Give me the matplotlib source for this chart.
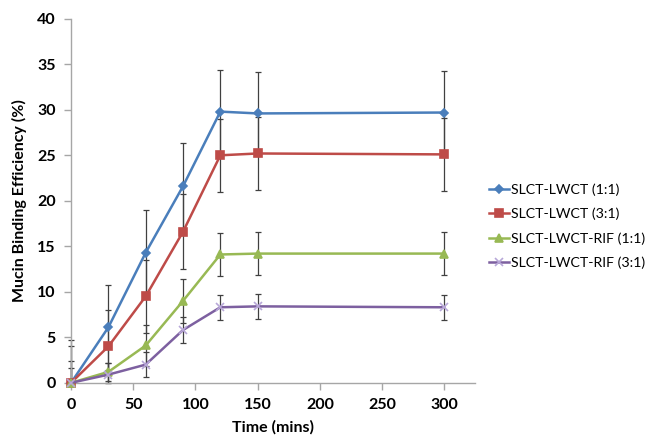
import matplotlib.pyplot as plt

plt.rcParams['font.family'] = ['Lato', 'DejaVu Sans']

# binding efficiency over time for each formulation
time = [0, 30, 60, 90, 120, 150, 300]
lwct_11 = [0, 6.1, 14.3, 21.6, 29.8, 29.6, 29.7]
lwct_11_err = [4.7, 4.7, 4.7, 4.7, 4.6, 4.6, 4.6]
lwct_31 = [0, 4.0, 9.5, 16.6, 25.0, 25.2, 25.1]
lwct_31_err = [4.0, 4.0, 4.0, 4.1, 4.0, 4.0, 4.0]
rif_11 = [0, 1.2, 4.1, 9.0, 14.1, 14.2, 14.2]
rif_11_err = [2.4, 1.0, 2.3, 2.4, 2.4, 2.4, 2.4]
rif_31 = [0, 0.9, 2.0, 5.8, 8.3, 8.4, 8.3]
rif_31_err = [1.6, 1.3, 1.4, 1.4, 1.4, 1.4, 1.4]

series = [
    ('SLCT-LWCT (1:1)', lwct_11, lwct_11_err, '#4A7EBB', 'D', 4),
    ('SLCT-LWCT (3:1)', lwct_31, lwct_31_err, '#BE4B48', 's', 6),
    ('SLCT-LWCT-RIF (1:1)', rif_11, rif_11_err, '#98B954', '^', 6),
    ('SLCT-LWCT-RIF (3:1)', rif_31, rif_31_err, '#7D60A0', 'x', 6),
]

fig = plt.figure(figsize=(6.52, 4.37), dpi=100)
ax = fig.add_axes([0.109, 0.124, 0.62, 0.833])

for label, y, err, color, marker, ms in series:
    # bars stop at the x axis, as the y range starts at zero
    lower = [min(e, v) for v, e in zip(y, err)]
    eb = ax.errorbar(time, y, yerr=[lower, err], fmt='none', ecolor='#404040',
                     elinewidth=0.9, capsize=2.5, capthick=0.9, zorder=2)
    for part in eb.lines[1] + eb.lines[2]:
        part.set_clip_on(False)
    mfc = '#B8A8D8' if marker == 'x' else color
    ax.plot(time, y, color=color, lw=1.8, marker=marker, ms=ms,
            mfc=mfc, mec=mfc, mew=1.2, label=label, zorder=3, clip_on=False)

ax.set_xlim(0, 325)
ax.set_ylim(0, 40)
ax.set_xticks(range(0, 301, 50))
ax.set_yticks(range(0, 41, 5))

for side in ['top', 'right']:
    ax.spines[side].set_visible(False)
for side in ['left', 'bottom']:
    ax.spines[side].set_color('#A6A6A6')
    ax.spines[side].set_linewidth(1.0)
ax.tick_params(colors='#A6A6A6', length=5, width=1.0, labelcolor='black',
               labelsize=11.5, pad=6)
for t in ax.get_xticklabels() + ax.get_yticklabels():
    t.set_fontweight('bold')

ax.set_xlabel('Time (mins)', fontsize=11.5, fontweight='bold', labelpad=6)
ax.set_ylabel('Mucin Binding Efficiency (%)', fontsize=11.5,
              fontweight='bold', labelpad=7)

ax.legend(loc='center left', bbox_to_anchor=(1.01, 0.43), frameon=False,
          fontsize=10.2, handlelength=1.4, handletextpad=0.1,
          labelspacing=0.85, borderaxespad=0.3)

fig.savefig('out.png', dpi=100)
